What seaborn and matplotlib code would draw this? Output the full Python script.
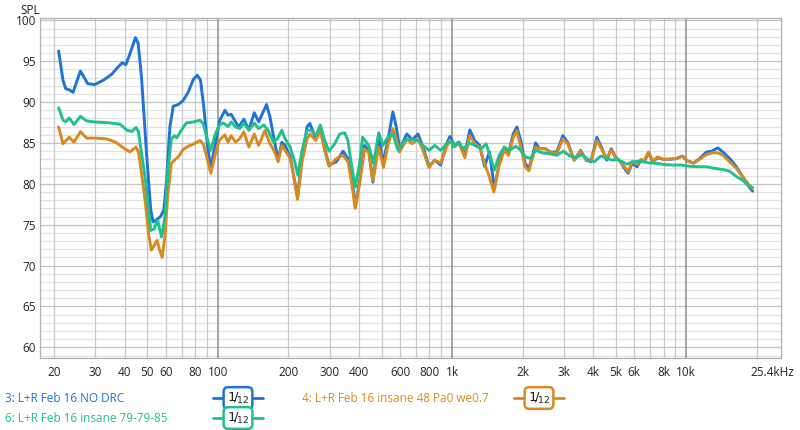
import matplotlib
matplotlib.use("Agg")
import matplotlib.pyplot as plt
from matplotlib.lines import Line2D
from matplotlib.ticker import FixedLocator, NullFormatter
from matplotlib.transforms import ScaledTranslation
import numpy as np
import pandas as pd
import seaborn as sns

# --- data (Hz, dB SPL) ---
blue_f = [20.9, 21.8, 22.4, 23.2, 24.1, 25.1, 25.9, 26.8, 27.8, 29.8, 32.4, 35.2, 37.5, 39.0, 40.5,
          42.1, 44.5, 45.7, 47.2, 49.6, 51.7, 52.9, 54.7, 56.9, 58.8, 60.4, 62.4, 64.5, 67.7, 71.1,
          74.7, 78.5, 81.6, 84.3, 87.1, 90.4, 93.3, 97.1, 102, 107.2, 110.5, 114, 117.8, 122.8, 129.2,
          135.6, 143.1, 149.4, 156.1, 161.4, 166.9, 174.8, 180.9, 187.6, 193.8, 203.8, 211.2, 218.9,
          228.9, 240.4, 247.2, 261.9, 273.9, 285.9, 298.4, 320.8, 342.5, 359.4, 371.4, 386.3, 403,
          423.1, 441.2, 459, 486.6, 506.5, 532.1, 559, 578, 597.1, 641.5, 676.5, 715.7, 751.7, 797.5,
          843.2, 894.6, 947.6, 979.5, 1029, 1072, 1134, 1191, 1250, 1312, 1377, 1445, 1517, 1592,
          1671, 1743, 1825, 1892, 1966, 2051, 2130, 2201, 2274, 2365, 2506, 2630, 2804, 2972, 3118,
          3323, 3541, 3739, 3921, 4152, 4345, 4574, 4787, 4986, 5237, 5447, 5646, 5871, 6164, 6408,
          6618, 6904, 7202, 7539, 7990, 8520, 9092, 9636, 10120, 10760, 11420, 12200, 12810, 13220,
          13660, 14350, 15330, 16380, 17500, 18400, 19200]
blue_spl = [96.25, 92.7, 91.65, 91.5, 91.2, 92.7, 93.8, 93.07, 92.26, 92.14, 92.67, 93.4, 94.3, 94.8, 94.6,
            95.9, 97.9, 97.15, 93.07, 83.7, 76.8, 75.35, 75.6, 76.0, 76.8, 80.4, 86.96, 89.5, 89.7, 90.2,
            91.2, 92.75, 93.3, 92.7, 89.4, 84.5, 82.1, 84.5, 87.8, 89.0, 88.4, 88.5, 87.8, 86.96, 87.9,
            86.6, 88.7, 87.6, 88.8, 89.7, 88.2, 85.1, 82.9, 85.1, 84.7, 83.3, 80.8, 78.4,
            83.3, 86.96, 87.4, 85.5, 86.96, 84.3, 82.3, 82.7, 84.0, 83.1, 81.3, 77.2, 80.4,
            84.7, 84.1, 80.2, 86.1, 82.5, 85.3, 88.8, 86.96, 84.3, 86.1, 85.4, 86.1, 84.5, 82.1,
            82.9, 82.3, 84.9, 85.8, 84.6, 85.1, 83.5, 86.6, 85.3, 84.7, 82.15, 83.9, 79.4, 82.5,
            84.5, 83.7, 86.1, 86.96, 85.3, 82.5, 81.9, 83.3, 85.0, 84.3, 84.3, 83.9, 83.9, 85.9, 85.1,
            82.9, 84.1, 82.9, 82.7, 85.7, 84.5, 82.9, 84.3, 83.3, 82.7, 81.9, 81.3, 82.5, 82.1, 82.9,
            82.7, 83.8, 82.7, 83.2, 83.0, 83.0, 83.1, 83.4, 82.8, 82.55, 83.1, 83.9, 84.0, 84.2,
            84.4, 83.9, 83.1, 82.1, 80.8, 79.8, 79.1]

orange_f = [20.9, 21.8, 23.2, 24.3, 25.9, 27.5, 29.8, 33.5, 36.6, 40.0, 42.1, 44.7, 45.8, 46.8, 48.9,
            50.6, 52.0, 53.8, 55.0, 56.4, 57.8, 59.4, 61.2, 63.3, 65.3, 67.7, 71.1, 74.7, 78.5, 83.9,
            86.6, 89.3, 93.3, 97.1, 101.3, 107.2, 110.5, 114, 119, 123.8, 129.2, 135.6, 143.1, 149.4,
            158.8, 165.8, 174.8, 180.9, 187.6, 193.8, 203.8, 211.2, 218.9, 228.9, 240.4, 247.2, 261.9,
            273.9, 285.9, 298.4, 320.8, 342.5, 359.4, 371.4, 386.3, 403, 423.1, 441.2, 459, 486.6,
            509.8, 532.1, 559, 578, 597.1, 641.5, 676.5, 715.7, 751.7, 797.5, 843.2, 894.6, 947.6,
            979.5, 1029, 1072, 1134, 1191, 1250, 1312, 1377, 1436, 1508, 1583, 1671, 1743, 1825, 1892,
            1966, 2051, 2130, 2201, 2274, 2388, 2506, 2630, 2804, 2972, 3118, 3323, 3541, 3739, 3921,
            4152, 4345, 4574, 4787, 4986, 5237, 5447, 5646, 5871, 6164, 6408, 6618, 6904, 7202, 7539,
            7990, 8520, 9092, 9636, 10120, 10760, 11420, 12200, 13010, 13660, 14350, 15330, 16380,
            17500, 18400, 19200]
orange_spl = [86.96, 84.9, 85.7, 85.1, 86.4, 85.6, 85.6, 85.5, 85.1, 84.3, 83.9, 84.5, 83.9, 82.1, 78.0,
              73.9, 71.9, 72.6, 73.1, 71.9, 71.0, 73.5, 78.8, 82.5, 82.9, 83.3, 84.2, 84.6, 84.85, 85.3,
              84.9, 83.5, 81.3, 83.4, 85.3, 86.0, 85.1, 85.9, 85.1, 85.5, 86.35, 84.5, 86.1, 84.7,
              86.55, 85.1, 83.9, 82.7, 84.7, 84.1, 83.1, 80.8, 78.1, 82.7, 85.5, 86.1, 85.3,
              86.55, 84.1, 82.15, 83.1, 83.5, 82.7, 80.4, 77.0, 80.0, 84.3, 83.8, 80.4, 84.5,
              82.0, 84.7, 86.76, 85.5, 83.9, 85.5, 84.9, 85.5, 84.1, 82.0, 82.9, 82.55, 84.5,
              85.35, 84.6, 85.0, 83.2, 85.9, 84.9, 84.5, 82.5, 81.05, 79.0, 82.1, 84.1, 83.5, 85.7, 86.5,
              84.5, 82.1, 81.6, 83.1, 84.5, 84.3, 84.3, 83.9, 83.7, 85.5, 84.9, 82.9, 84.0, 82.9, 82.8,
              85.3, 84.3, 83.1, 84.2, 83.2, 82.7, 82.1, 81.5, 82.7, 82.4, 83.0, 82.8, 83.9, 82.8, 83.3,
              83.0, 83.05, 83.1, 83.4, 82.8, 82.55, 83.0, 83.6, 83.8, 83.8, 83.5, 82.7, 81.9,
              80.8, 80.0, 79.4]

green_f = [20.9, 21.8, 22.4, 23.2, 24.3, 25.9, 27.5, 29.8, 33.5, 38.2, 41.0, 42.9, 44.7, 45.8, 46.8,
           48.9, 50.6, 51.7, 53.4, 55.3, 57.5, 59.4, 61.2, 63.3, 65.3, 66.8, 69.8, 73.3, 78.5, 83.9,
           86.6, 89.3, 93.3, 97.1, 101.3, 105.6, 110.5, 114, 119, 123.8, 129.2, 135.6, 143.1, 149.4,
           157.2, 164, 172.8, 179.6, 187.6, 193.8, 203.8, 212.9, 219.6, 228.9, 240.4, 250.1, 261.9,
           273.9, 285.9, 298.4, 315.5, 331.5, 348.2, 359.4, 371.4, 386.3, 403, 415, 441.2, 462.1,
           486.6, 506.5, 532.1, 559, 587.5, 627.6, 669.8, 715.7, 751.7, 797.5, 843.2, 894.6, 947.6,
           996, 1012, 1062, 1114, 1191, 1271, 1334, 1399, 1455, 1517, 1592, 1671, 1755, 1874, 1966,
           2065, 2164, 2274, 2425, 2588, 2804, 2991, 3189, 3398, 3573, 3807, 4050, 4317, 4605, 4834,
           5080, 5336, 5592, 5871, 6164, 6577, 7014, 7490, 8120, 8800, 9540, 10370, 11240, 12200,
           13220, 14350, 15330, 16380, 17500, 18400, 19200]
green_spl = [89.3, 87.8, 87.6, 88.06, 87.25, 88.26, 87.7, 87.57, 87.5, 87.3, 86.55, 86.4, 86.9, 86.4, 84.5,
             80.8, 76.8, 74.3, 74.5, 75.55, 73.5, 75.95, 81.7, 85.5, 85.9, 85.65, 86.55, 87.45, 87.57, 87.78,
             87.37, 85.9, 84.1, 85.9, 87.2, 87.45, 87.0, 87.57, 86.96, 86.76, 87.45, 86.55, 87.45, 86.76,
             87.2, 86.55, 85.1, 85.5, 86.55, 85.5, 84.5, 82.7, 81.05, 84.1, 86.55, 86.55, 85.9,
             87.2, 85.3, 84.0, 84.9, 86.1, 86.25, 85.3, 82.5, 79.6, 82.5, 85.7, 84.7, 82.5,
             86.25, 84.7, 85.7, 86.1, 84.1, 85.3, 85.5, 85.3, 84.7, 84.1, 84.7, 84.1, 84.9,
             85.2, 84.5, 85.1, 84.3, 85.0, 84.6, 84.3, 84.9, 83.3, 81.7, 83.5, 84.5, 84.1, 84.6, 84.1,
             83.3, 83.1, 84.1, 83.8, 83.7, 83.5, 84.0, 83.4, 83.2, 83.6, 83.0, 82.7, 83.4, 83.1, 82.9,
             83.0, 82.7, 82.4, 82.7, 82.75, 82.7, 82.55, 82.5, 82.35, 82.3, 82.3, 82.15, 82.1, 82.1,
             81.9, 81.75, 81.55, 80.9, 80.4, 79.8, 79.55]

names = ["3: L+R Feb 16 NO DRC", "4: L+R Feb 16 insane 48 Pa0 we0.7", "6: L+R Feb 16 insane 79-79-85"]
colors = ["#1f72d8", "#d98a1f", "#1fc08e"]

x_ticks = [20, 30, 40, 50, 60, 80, 100, 200, 300, 400, 600, 800, 1000, 2000, 3000, 4000,
           5000, 6000, 8000, 10000, 25400]
x_labels = ["20", "30", "40", "50", "60", "80", "100", "200", "300", "400", "600", "800", "1k",
            "2k", "3k", "4k", "5k", "6k", "8k", "10k", "25.4kHz"]
y_ticks = [60, 65, 70, 75, 80, 85, 90, 95, 100]

sns.set_style("white")
plt.rcParams["font.family"] = ["Open Sans", "DejaVu Sans"]
plt.rcParams["mathtext.fontset"] = "dejavusans"

fig = plt.figure(figsize=(8, 4.3), dpi=100)
ax = fig.add_axes([40 / 800, 1 - 358 / 430, 741 / 800, 340.5 / 430])

df = pd.concat([
    pd.DataFrame({"f": blue_f, "spl": blue_spl, "trace": names[0]}),
    pd.DataFrame({"f": orange_f, "spl": orange_spl, "trace": names[1]}),
    pd.DataFrame({"f": green_f, "spl": green_spl, "trace": names[2]}),
])
sns.lineplot(data=df, x="f", y="spl", hue="trace", palette=dict(zip(names, colors)),
             hue_order=names, sort=False, estimator=None, linewidth=2.1, legend=False, ax=ax)
for ln in ax.get_lines():
    ln.set_solid_joinstyle("round")
    ln.set_zorder(5)

ax.set_xscale("log")
ax.set_xlim(17.4, 25400)
ax.set_ylim(58.7, 100.35)

# grid like REW: horizontal first, then verticals on top
for yv in range(59, 101):
    ax.axhline(yv, color="#c4c4c4" if yv % 5 == 0 else "#e2e2e2", lw=0.9, zorder=0)
minor_x = [m * d for d in [10, 100, 1000, 10000] for m in range(2, 10) if 17.4 < m * d < 25400]
for xv in minor_x:
    ax.axvline(xv, color="#c8c8c8", lw=0.9, zorder=1)
for xv in [100, 1000, 10000]:
    ax.axvline(xv, color="#8c8c8c", lw=1.1, zorder=2)

ax.xaxis.set_major_locator(FixedLocator(x_ticks))
ax.xaxis.set_minor_locator(FixedLocator([]))
ax.xaxis.set_minor_formatter(NullFormatter())
ax.set_xticklabels(x_labels)
ax.set_yticks(y_ticks)
ax.tick_params(axis="both", length=0, labelsize=8.5, colors="#222222")
ax.tick_params(axis="x", pad=6)
ax.tick_params(axis="y", pad=3)
ax.set_xlabel("")
ax.set_ylabel("")
for s in ax.spines.values():
    s.set_color("#b0b0b0")
    s.set_linewidth(0.9)

# last label sits left of its tick so it stays inside the picture
last = ax.get_xticklabels()[-1]
last.set_transform(last.get_transform() + ScaledTranslation(-6 / 72, 0, fig.dpi_scale_trans))

fig.text(20 / 800, 1 - 10 / 430, "SPL", fontsize=8.5, color="#222222", va="center")

# legend rows
legend_pos = [(5, 398, 213, 263), (302, 398, 514, 564), (5, 418, 213, 263)]
for name, col, (tx, ty, l0, l1) in zip(names, colors, legend_pos):
    yf = 1 - ty / 430
    fig.text(tx / 800, yf, name, color=col, fontsize=8.5, va="center", ha="left")
    fig.add_artist(Line2D([l0 / 800, l1 / 800], [yf, yf], transform=fig.transFigure,
                          color=col, lw=2, zorder=1))
    fig.text((l0 + l1) / 2 / 800, yf, r"$1\!/_{\!12}$", color="#222222", fontsize=9.5,
             ha="center", va="center", zorder=3,
             bbox=dict(boxstyle="round,pad=0.25,rounding_size=0.35", fc="white", ec=col, lw=1.8))

fig.savefig("out.png", dpi=100)
